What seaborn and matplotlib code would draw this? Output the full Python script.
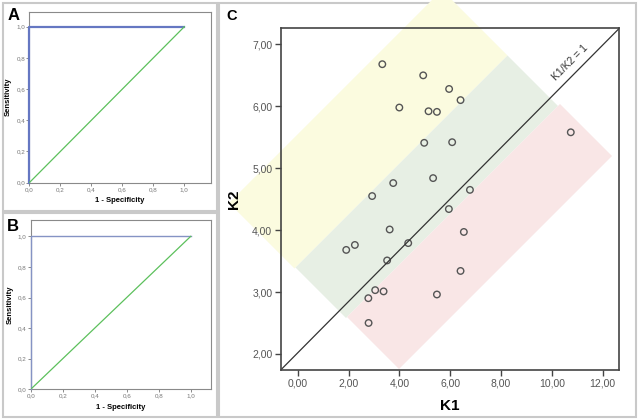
import numpy as np
import pandas as pd
import matplotlib
matplotlib.use("Agg")
import matplotlib.pyplot as plt
from matplotlib.patches import Polygon, Rectangle
from matplotlib.ticker import FuncFormatter
import seaborn as sns

# ROC curves (panels A and B)
roc_fpr = [0.0, 0.0, 1.0]
roc_tpr = [0.0, 1.0, 1.0]
ref_fpr = [0.0, 1.0]
ref_tpr = [0.0, 1.0]
roc_ticks = [0.0, 0.2, 0.4, 0.6, 0.8, 1.0]

# scatter K1 vs K2 (panel C)
k1 = [3.33, 4.94, 5.96, 6.41, 4.00, 5.15, 5.48, 4.98, 6.08, 10.75, 3.76, 5.33, 6.78, 2.93,
      5.95, 3.62, 6.54, 1.91, 2.25, 4.35, 3.52, 6.41, 3.05, 3.38, 2.78, 5.48, 2.79]
k2 = [6.68, 6.50, 6.28, 6.10, 5.98, 5.92, 5.91, 5.41, 5.42, 5.58, 4.76, 4.84, 4.65, 4.55,
      4.34, 4.01, 3.97, 3.68, 3.76, 3.79, 3.51, 3.34, 3.03, 3.01, 2.90, 2.96, 2.50]
k1_ticks = [0, 2, 4, 6, 8, 10, 12]
k2_ticks = [2, 3, 4, 5, 6, 7]

plt.rcParams['font.family'] = ['Liberation Sans', 'DejaVu Sans']

W, H = 639, 419
fig = plt.figure(figsize=(W / 100, H / 100), dpi=100)


def px_box(l, t, r, b):
    return [l / W, 1 - b / H, (r - l) / W, (b - t) / H]


def comma(fmt):
    return FuncFormatter(lambda v, p: fmt.format(v).replace('.', ','))


# gray panel frames
for l, t, r, b in [(3, 3, 217, 211), (3, 213, 217, 417), (219, 3, 636, 417)]:
    fig.patches.append(Rectangle((l / W, 1 - b / H), (r - l) / W, (b - t) / H,
                                 transform=fig.transFigure, fill=False,
                                 edgecolor='#c9c9c9', lw=1.5, zorder=-3))


def roc_panel(box, xmax, ymax, blue, blue_lw, letter, lpos):
    ax = fig.add_axes(px_box(*box))
    sns.lineplot(x=roc_fpr, y=roc_tpr, sort=False, estimator=None, color=blue,
                 lw=blue_lw, ax=ax, zorder=3, clip_on=False)
    sns.lineplot(x=ref_fpr, y=ref_tpr, sort=False, estimator=None, color='#5cc05c',
                 lw=0.9, ax=ax, zorder=3)
    ax.set_xlim(0, xmax)
    ax.set_ylim(0, ymax)
    ax.set_xticks(roc_ticks)
    ax.set_yticks(roc_ticks)
    ax.xaxis.set_major_formatter(comma("{:.1f}"))
    ax.yaxis.set_major_formatter(comma("{:.1f}"))
    ax.tick_params(labelsize=4.5, labelcolor='#777777', length=2, width=0.6,
                   color='#777777', pad=1)
    for s in ax.spines.values():
        s.set_color('#8a8a8a')
        s.set_linewidth(0.8)
    ax.set_xlabel("1 - Specificity", fontsize=5.5, fontweight='bold', labelpad=4)
    ax.set_ylabel("Sensitivity", fontsize=5.5, fontweight='bold', labelpad=3)
    fig.text(lpos[0] / W, 1 - lpos[1] / H, letter, fontsize=12, fontweight='bold',
             ha='left', va='baseline')


roc_panel((29.3, 11.7, 210.7, 182.7), 1.17, 1.096, '#6577c2', 1.6, 'A', (8, 20))
roc_panel((30.7, 220, 210.7, 389.3), 1.125, 1.107, '#8593c4', 1.0, 'B', (7, 231))

# colored diagonal bands behind panel C (pixel space: s = x+y, d = y-x)
def band(s0, s1, d0, d1, color):
    pts = []
    for s, d in [(s0, d0), (s0, d1), (s1, d1), (s1, d0)]:
        x, y = (s - d) / 2, (s + d) / 2
        pts.append((x / W, 1 - y / H))
    fig.patches.append(Polygon(pts, closed=True, transform=fig.transFigure,
                               facecolor=color, edgecolor='none', zorder=-2))


band(432, 563, -452, -26, '#fbfbdf')
band(563, 664, -452, -28, '#e7efe4')
band(664, 768, -456, -30, '#f9e6e6')

axc = fig.add_axes(px_box(280.7, 28.3, 619.3, 370))
axc.set_facecolor('none')
pts = pd.DataFrame({"K1": k1, "K2": k2})
sns.scatterplot(data=pts, x="K1", y="K2", ax=axc, s=22, facecolor='none',
                edgecolor='#555555', linewidth=1.0)
axc.set_xlim(-0.67, 12.66)
axc.set_ylim(1.74, 7.26)
axc.plot([0, 1], [0, 1], transform=axc.transAxes, color='#333333', lw=0.9)
axc.text(570 / W, 1 - 63 / H, "K1/K2 = 1", transform=fig.transFigure, rotation=45,
         ha='center', va='center', fontsize=7.5, color='#333333')
axc.set_xticks(k1_ticks)
axc.set_yticks(k2_ticks)
axc.xaxis.set_major_formatter(comma("{:.2f}"))
axc.yaxis.set_major_formatter(comma("{:.2f}"))
axc.tick_params(labelsize=7.5, labelcolor='#555555', length=4, width=1,
                color='#444444', pad=2)
for s in axc.spines.values():
    s.set_color('#444444')
    s.set_linewidth(1.2)
axc.set_xlabel("K1", fontsize=11, fontweight='bold', labelpad=8)
axc.set_ylabel("K2", fontsize=11, fontweight='bold', labelpad=8)
fig.text(226 / W, 1 - 20 / H, "C", fontsize=10.5, fontweight='bold',
         ha='left', va='baseline')

fig.savefig("out.png", dpi=100)
